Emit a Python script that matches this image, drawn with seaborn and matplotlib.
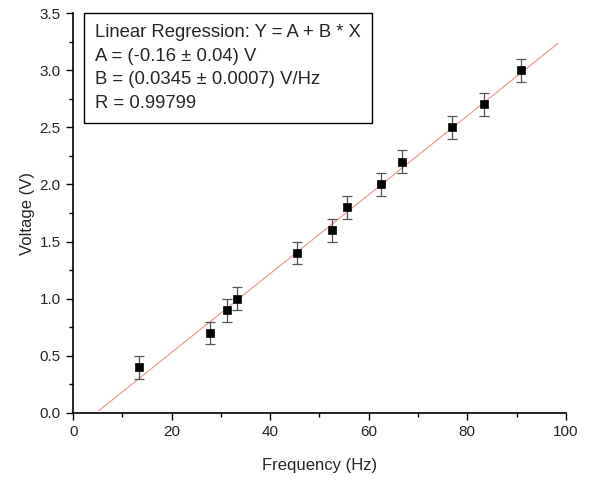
import numpy as np
import pandas as pd
import matplotlib
matplotlib.use("Agg")
import matplotlib.pyplot as plt
import seaborn as sns
from matplotlib.ticker import MultipleLocator

# measured points
freq = [13.3, 27.8, 31.2, 33.3, 45.5, 52.6, 55.6, 62.5, 66.7, 76.9, 83.3, 90.9]
volt = [0.4, 0.7, 0.9, 1.0, 1.4, 1.6, 1.8, 2.0, 2.2, 2.5, 2.7, 3.0]
verr = [0.1] * 12

# fit result
A = -0.16
B = 0.0345
fit_x = [5.2, 98.4]

sns.set_theme(style="ticks")
plt.rcParams['font.family'] = ['Liberation Sans', 'DejaVu Sans']

df = pd.DataFrame({'Frequency (Hz)': freq, 'Voltage (V)': volt})
fit = pd.DataFrame({'x': fit_x, 'y': [A + B * v for v in fit_x]})

fig = plt.figure(figsize=(5.9, 4.83), dpi=100)
ax = fig.add_axes([0.124, 0.145, 0.835, 0.828])

sns.lineplot(data=fit, x='x', y='y', ax=ax, color='#e8a090', linewidth=0.9)
ax.errorbar(freq, volt, yerr=verr, fmt='none', ecolor='#555555',
            elinewidth=0.9, capsize=3.5, capthick=0.9, zorder=3)
sns.scatterplot(data=df, x='Frequency (Hz)', y='Voltage (V)', ax=ax,
                marker='s', s=36, color='black', edgecolor='black', zorder=4)

ax.set_xlim(0, 100)
ax.set_ylim(0, 3.5)
ax.xaxis.set_major_locator(MultipleLocator(20))
ax.xaxis.set_minor_locator(MultipleLocator(10))
ax.yaxis.set_major_locator(MultipleLocator(0.5))
ax.yaxis.set_minor_locator(MultipleLocator(0.25))
ax.tick_params(which='major', length=5, width=1, labelsize=11, color='black', pad=4)
ax.tick_params(which='minor', length=3, width=1, color='black')
for s in ['left', 'bottom']:
    ax.spines[s].set_linewidth(1.2)
    ax.spines[s].set_color('black')
sns.despine(ax=ax)
ax.set_xlabel('Frequency (Hz)', fontsize=12, labelpad=13)
ax.set_ylabel('Voltage (V)', fontsize=12, labelpad=3)

txt = ("Linear Regression: Y = A + B * X\n"
       "A = (-0.16 \u00b1 0.04) V\n"
       "B = (0.0345 \u00b1 0.0007) V/Hz\n"
       "R = 0.99799")
ax.text(0.044, 0.972, txt, transform=ax.transAxes, fontsize=13.3,
        va='top', ha='left', linespacing=1.5,
        bbox=dict(boxstyle='square,pad=0.6', facecolor='white',
                  edgecolor='black', linewidth=1))

fig.savefig('out.png', dpi=100)
